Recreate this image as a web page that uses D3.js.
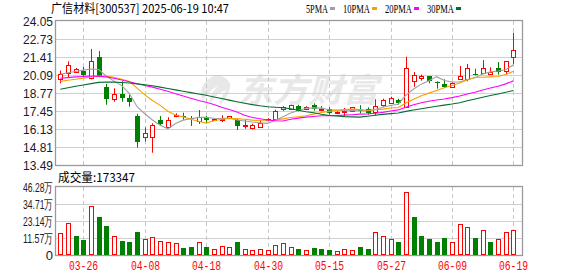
<!DOCTYPE html>
<html><head><meta charset="utf-8">
<script src="https://cdn.jsdelivr.net/npm/d3@7/dist/d3.min.js"></script>
<style>html,body{margin:0;padding:0;background:#fff;}svg{display:block;}</style>
</head><body>
<svg id="c" width="578" height="276"></svg>
<script>
// ---------------- DATA ----------------
const dates = ["03-21","03-24","03-25","03-26","03-27","03-28","03-31","04-01","04-02","04-03",
"04-07","04-08","04-09","04-10","04-11","04-14","04-15","04-16","04-17","04-18",
"04-21","04-22","04-23","04-24","04-25","04-28","04-29","04-30","05-06","05-07",
"05-08","05-09","05-12","05-13","05-14","05-15","05-16","05-19","05-20","05-21",
"05-22","05-23","05-26","05-27","05-28","05-29","05-30","06-03","06-04","06-05",
"06-06","06-09","06-10","06-11","06-12","06-13","06-16","06-17","06-18","06-19"];
const open  = [19.77,20.21,20.31,20.38,19.87,21.41,19.21,18.35,18.70,18.40,17.08,15.52,15.52,16.79,16.30,17.05,17.10,16.95,16.74,16.94,16.78,16.88,16.92,16.77,16.40,16.22,16.25,16.80,16.90,17.62,17.57,17.82,17.63,17.89,17.58,17.57,17.36,17.45,17.47,17.55,17.57,17.38,17.87,18.06,18.26,17.77,19.63,19.90,20.02,19.55,19.43,19.23,19.82,19.82,20.20,20.26,20.20,20.58,20.36,21.39];
const high  = [20.41,21.09,20.60,20.68,22.00,21.85,19.43,19.11,19.63,18.65,17.25,16.25,16.55,17.08,16.99,17.28,17.33,17.08,17.52,17.08,16.92,17.14,17.08,16.86,16.79,16.52,16.79,16.92,17.55,17.80,17.91,17.91,17.80,18.01,17.82,17.72,17.43,17.67,17.75,17.87,17.72,18.31,18.35,18.50,18.35,21.43,20.31,20.12,20.02,19.63,19.77,19.58,20.75,20.90,20.55,21.19,20.65,21.04,21.09,23.19];
const low   = [19.48,19.92,20.26,19.97,19.77,19.92,17.91,18.13,18.13,17.77,14.76,15.20,14.39,16.35,16.25,16.99,16.80,16.35,16.50,16.55,16.72,16.64,16.88,16.06,16.15,16.10,16.20,16.76,16.85,17.45,17.52,17.43,17.52,17.47,17.47,17.18,17.28,17.03,17.40,17.28,17.18,17.14,17.77,17.96,17.91,17.72,19.23,19.67,19.48,19.09,19.14,19.19,19.72,19.63,20.07,20.16,20.12,20.12,20.12,20.90];
const close = [20.16,20.80,20.51,20.07,21.09,19.97,18.35,18.70,18.43,18.13,15.20,15.81,16.40,16.52,16.79,17.15,17.05,16.88,17.03,16.79,16.86,16.90,17.05,16.35,16.46,16.46,16.59,16.86,17.47,17.72,17.87,17.47,17.72,17.62,17.60,17.28,17.38,17.47,17.72,17.50,17.28,17.82,18.26,18.40,18.01,20.58,20.07,20.02,19.67,19.50,19.19,19.53,20.02,20.58,20.14,20.58,20.28,20.31,21.09,21.92];
// volume in 万 (10k shares)
const volume = [14.9,21.7,12.9,10.2,33.2,25.7,19.7,12.7,9.5,8.8,15.6,10.6,12.0,9.5,8.6,8.1,4.7,5.4,8.6,5.4,3.8,5.9,5.2,8.8,3.8,3.2,4.3,3.2,6.6,7.9,5.2,4.0,3.2,4.5,3.8,3.4,2.5,3.8,3.4,5.4,4.1,15.6,12.6,10.6,8.8,43.2,25.7,12.9,10.8,9.0,11.5,8.8,21.0,19.0,11.5,16.7,8.8,10.6,15.6,17.33];
const ma5  = [20.15,20.25,20.35,20.45,20.53,20.49,20.00,19.64,19.31,18.72,17.76,17.25,16.79,16.41,16.14,16.53,16.78,16.88,16.98,16.98,16.92,16.89,16.93,16.79,16.72,16.64,16.58,16.54,16.77,17.02,17.30,17.48,17.65,17.68,17.66,17.54,17.52,17.47,17.49,17.47,17.47,17.56,17.72,17.85,17.95,18.61,19.06,19.42,19.67,19.97,19.69,19.58,19.58,19.76,19.89,20.17,20.32,20.38,20.48,20.84];
const ma10 = [19.62,19.70,19.78,19.86,19.94,20.02,20.00,19.92,19.78,19.62,19.13,18.63,18.22,17.86,17.43,17.15,17.02,16.84,16.70,16.56,16.73,16.84,16.90,16.89,16.85,16.78,16.74,16.74,16.78,16.87,16.97,17.03,17.10,17.22,17.34,17.42,17.50,17.56,17.59,17.56,17.50,17.54,17.59,17.67,17.71,18.04,18.31,18.57,18.76,18.96,19.15,19.32,19.50,19.72,19.93,19.93,19.95,19.98,20.12,20.36];
const ma20 = [19.85,19.90,19.95,19.98,20.02,20.00,19.95,19.85,19.72,19.60,19.45,19.32,19.20,19.05,18.90,18.72,18.55,18.38,18.22,18.09,17.93,17.73,17.56,17.37,17.14,16.97,16.88,16.79,16.74,16.72,16.85,16.93,17.00,17.05,17.10,17.10,17.12,17.15,17.18,17.22,17.24,17.28,17.35,17.45,17.53,17.73,17.91,18.06,18.17,18.26,18.33,18.43,18.55,18.69,18.82,18.99,19.13,19.27,19.44,19.66];
const ma30 = [19.04,19.15,19.26,19.36,19.46,19.55,19.58,19.57,19.54,19.50,19.44,19.37,19.30,19.20,19.10,19.00,18.90,18.80,18.70,18.60,18.48,18.37,18.25,18.13,18.02,17.92,17.83,17.76,17.72,17.69,17.61,17.50,17.40,17.32,17.21,17.12,17.08,17.04,17.02,17.00,17.07,17.14,17.20,17.26,17.30,17.42,17.52,17.62,17.71,17.80,17.88,17.96,18.06,18.20,18.33,18.46,18.59,18.70,18.82,18.96];
const priceTicks = [24.05,22.73,21.41,20.09,18.77,17.45,16.13,14.81,13.49];
const volTicks = [0,11.57,23.14,34.71,46.28];
const volTickLabels = ["0","11.57万","23.14万","34.71万","46.28万"];
const dateTicks = ["03-26","04-08","04-18","04-30","05-15","05-27","06-09","06-19"];
const maNames = ["5PMA","10PMA","20PMA","30PMA"];
const titleText = "广信材料[300537] 2025-06-19 10:47";
const volTitle = "成交量:173347";

// ---------------- LAYOUT ----------------
const RED = "#ff0000", GREEN = "#008000";
const maColors = ["#a0a0a0","#f5a200","#ff00ff","#006e30"];
const L = 56, R = 522;
const pTop = 21, pBot = 165, vTop = 187, vBot = 255;

const svg = d3.select("#c");
const x = d3.scaleBand().domain(dates).range([56.46, 56.46 + 7.68 * dates.length]).padding(0);
const cxRaw = d => x(d) + x.bandwidth() / 2;
const cx = d => Math.round(cxRaw(d)) + 0.5;
const y = d3.scaleLinear().domain([13.49, 24.05]).range([pBot, pTop]);
const vy = d3.scaleLinear().domain([0, 46.28]).range([vBot, vTop]);
const font = "'Liberation Sans', Arial, sans-serif";

// watermark
const wm = svg.append("g").attr("fill", "#e8e8e8");
wm.append("path").attr("d", "M214,76 C204,80 198,90 203,101 C206,96 210,90 218,86 C212,92 209,98 210,104 C214,97 219,92 227,90 C222,95 219,100 220,105 C226,98 231,92 230,84 C228,78 222,75 214,76 Z");
wm.append("text").attr("x", 238).attr("y", 102).attr("font-size", 33).attr("font-weight", "bold")
  .attr("font-family", "'Noto Sans CJK SC', sans-serif").attr("font-style", "italic")
  .attr("textLength", 140).attr("lengthAdjust", "spacingAndGlyphs").text("东方财富");

// horizontal grid
svg.append("g").selectAll("line").data(priceTicks.slice(1, -1)).join("line")
  .attr("x1", L).attr("x2", R).attr("y1", d => Math.round(y(d)) + 0.5).attr("y2", d => Math.round(y(d)) + 0.5)
  .attr("stroke", "#d0d0d0").attr("stroke-width", 1);
svg.append("g").selectAll("line").data(volTicks.slice(1, -1)).join("line")
  .attr("x1", L).attr("x2", R).attr("y1", d => Math.round(vy(d)) + 0.5).attr("y2", d => Math.round(vy(d)) + 0.5)
  .attr("stroke", "#d0d0d0").attr("stroke-width", 1);
// vertical dashed
const vg = svg.append("g").attr("stroke", "#c8c8c8").attr("stroke-dasharray", "4,3");
vg.selectAll("line.p").data(dateTicks).join("line").attr("class", "p")
  .attr("x1", d => cx(d)).attr("x2", d => cx(d)).attr("y1", pTop).attr("y2", pBot);
vg.selectAll("line.v").data(dateTicks).join("line").attr("class", "v")
  .attr("x1", d => cx(d)).attr("x2", d => cx(d)).attr("y1", vTop).attr("y2", vBot);

// frames
svg.append("rect").attr("x", L - 0.5).attr("y", pTop - 0.5).attr("width", R - L + 1).attr("height", pBot - pTop + 1)
  .attr("fill", "none").attr("stroke", "#9a9a9a").attr("stroke-width", 1.3);
svg.append("rect").attr("x", L - 0.5).attr("y", vTop - 0.5).attr("width", R - L + 1).attr("height", vBot - vTop + 1)
  .attr("fill", "none").attr("stroke", "#9a9a9a").attr("stroke-width", 1.3);

// candles
const idx = d3.range(dates.length);
const cg = svg.append("g");
idx.forEach(i => {
  const X = cx(dates[i]);
  const up = close[i] >= open[i];
  const col = up ? RED : GREEN;
  cg.append("line").attr("x1", X).attr("x2", X).attr("y1", y(high[i])).attr("y2", y(low[i]))
    .attr("stroke", col).attr("stroke-width", 1);
  const yO = Math.round(y(open[i])), yC = Math.round(y(close[i]));
  if (up) {
    cg.append("rect").attr("x", X - 2).attr("width", 4).attr("y", yC + 0.5)
      .attr("height", Math.max(1, yO - yC)).attr("fill", "#fff").attr("stroke", col).attr("stroke-width", 1);
  } else {
    cg.append("rect").attr("x", X - 2.5).attr("width", 5).attr("y", yO)
      .attr("height", Math.max(1, yC - yO)).attr("fill", col);
  }
});

// MA lines
[ma5, ma10, ma20, ma30].forEach((arr, k) => {
  svg.append("path").attr("fill", "none").attr("stroke", maColors[k]).attr("stroke-width", 1.1)
    .attr("d", d3.line().x(i => cxRaw(dates[i])).y(i => y(arr[i]))(idx));
});

// volume bars
const vgBars = svg.append("g");
idx.forEach(i => {
  const X = cx(dates[i]);
  const up = i === 0 ? close[i] >= open[i] : close[i] >= close[i - 1];
  const top = Math.round(vy(volume[i]));
  if (up) {
    vgBars.append("rect").attr("x", X - 2).attr("y", top + 0.5).attr("width", 4).attr("height", vBot - top - 1)
      .attr("fill", "#fff").attr("stroke", RED).attr("stroke-width", 1);
  } else {
    vgBars.append("rect").attr("x", X - 2.5).attr("y", top).attr("width", 5).attr("height", vBot - top)
      .attr("fill", GREEN);
  }
});

// axis labels
svg.append("g").selectAll("text").data(priceTicks).join("text")
  .attr("x", 53).attr("y", d => y(d) + 4.5).attr("text-anchor", "end")
  .attr("font-family", font).attr("font-size", 13).attr("fill", "#1a1a2a")
  .attr("textLength", 30).attr("lengthAdjust", "spacingAndGlyphs").text(d => d.toFixed(2));
svg.append("g").selectAll("text").data(volTicks).join("text")
  .attr("x", 53).attr("y", d => vy(d) + 4.5).attr("text-anchor", "end")
  .attr("font-family", font).attr("font-size", 13).attr("fill", "#1a1a2a")
  .each(function(d, i) {
    const t = d3.select(this).text(volTickLabels[i]);
    if (i > 0) t.attr("textLength", 30).attr("lengthAdjust", "spacingAndGlyphs");
  });
svg.append("g").selectAll("text").data(dateTicks).join("text")
  .attr("x", d => cx(d)).attr("y", 270).attr("text-anchor", "middle")
  .attr("font-family", "'Liberation Mono', monospace").attr("font-size", 12).attr("fill", RED)
  .attr("textLength", 29).attr("lengthAdjust", "spacingAndGlyphs").text(d => d);

// title
svg.append("text").attr("x", 51).attr("y", 13).attr("font-family", "'Noto Sans CJK SC', sans-serif")
  .attr("font-size", 12).attr("fill", "#000").attr("textLength", 178).attr("lengthAdjust", "spacingAndGlyphs")
  .text(titleText);
// legend
const legX = [306, 343, 385, 427], legW = [22, 27, 27, 27];
maNames.forEach((n, k) => {
  svg.append("text").attr("x", legX[k]).attr("y", 13).attr("font-family", "'Liberation Serif', serif")
    .attr("font-size", 12).attr("fill", "#000").attr("textLength", legW[k]).attr("lengthAdjust", "spacingAndGlyphs").text(n);
  svg.append("rect").attr("x", legX[k] + legW[k] + 2).attr("y", 7).attr("width", 5).attr("height", 3).attr("fill", maColors[k]);
});
// volume title
svg.append("text").attr("x", 58).attr("y", 181.5).attr("font-family", "'Noto Sans CJK SC', sans-serif")
  .attr("font-size", 12).attr("fill", "#000").attr("textLength", 77).attr("lengthAdjust", "spacingAndGlyphs")
  .text(volTitle);
</script>
</body></html>
